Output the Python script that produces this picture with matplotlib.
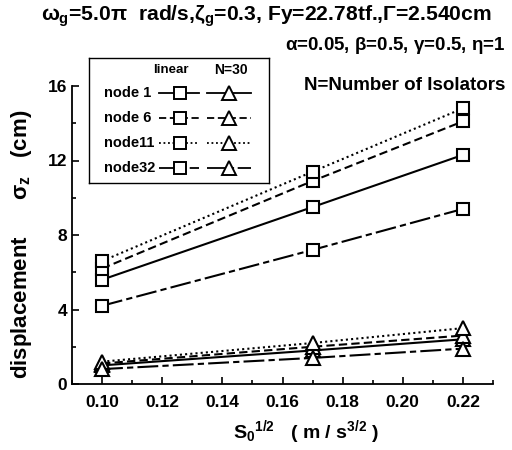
import matplotlib
matplotlib.use('Agg')
import matplotlib.pyplot as plt
import numpy as np
from matplotlib.ticker import MultipleLocator

plt.rcParams['font.family'] = ['Liberation Sans', 'DejaVu Sans']
plt.rcParams['font.weight'] = 'bold'
plt.rcParams['axes.labelweight'] = 'bold'
plt.rcParams['mathtext.fontset'] = 'custom'
plt.rcParams['mathtext.rm'] = 'Liberation Sans:bold'
plt.rcParams['mathtext.it'] = 'Liberation Sans:bold'
plt.rcParams['mathtext.bf'] = 'Liberation Sans:bold'

# datos
s0 = [0.10, 0.17, 0.22]
nodos = ['node 1', 'node 6', 'node11', 'node32']
lineal = {
    'node 1': [5.6, 9.5, 12.3],
    'node 6': [6.2, 10.9, 14.1],
    'node11': [6.6, 11.4, 14.8],
    'node32': [4.2, 7.2, 9.4],
}
n30 = {
    'node 1': [1.0, 1.8, 2.4],
    'node 6': [1.1, 2.0, 2.6],
    'node11': [1.2, 2.2, 3.0],
    'node32': [0.8, 1.4, 1.9],
}
estilos = {
    'node 1': '-',
    'node 6': (0, (4, 2)),
    'node11': (0, (1, 1.5)),
    'node32': (0, (10, 2, 3, 2)),
}

fig = plt.figure(figsize=(5.12, 4.5), dpi=100)
ax = fig.add_axes([72/512, 1-384/450, 421/512, 298/450])

for n in nodos:
    ax.plot(s0, lineal[n], linestyle=estilos[n], color='k', lw=1.5,
            marker='s', ms=9, mfc='white', mec='k', mew=1.5)
    ax.plot(s0, n30[n], linestyle=estilos[n], color='k', lw=1.5,
            marker='^', ms=10, mfc='white', mec='k', mew=1.5)

ax.set_xlim(0.09, 0.23)
ax.set_ylim(0, 16)
ax.xaxis.set_minor_locator(MultipleLocator(0.01))
ax.yaxis.set_major_locator(MultipleLocator(4))
ax.yaxis.set_minor_locator(MultipleLocator(2))
ax.set_xticks([0.10, 0.12, 0.14, 0.16, 0.18, 0.20, 0.22])
ax.set_xticklabels(['0.10', '0.12', '0.14', '0.16', '0.18', '0.20', '0.22'])
ax.tick_params(which='both', direction='in', labelsize=12.5, width=1.2)
ax.tick_params(which='major', length=5)
ax.tick_params(which='minor', length=3)
ax.tick_params(axis='x', pad=8)
ax.spines['top'].set_visible(False)
ax.spines['right'].set_visible(False)
ax.spines['left'].set_linewidth(1.3)
ax.spines['bottom'].set_linewidth(1.3)
for lab in ax.get_xticklabels() + ax.get_yticklabels():
    lab.set_fontweight('bold')

ax.set_xlabel(r'S$_{0}$$^{1/2}$   ( m / s$^{3/2}$ )', fontsize=14)
ax.xaxis.set_label_coords(0.555, -0.115)
ax.set_ylabel(r'displacement      $\sigma_{z}$   (cm)', fontsize=16)
ax.yaxis.set_label_coords(-0.09, 0.47)

fig.text(266/512, 1-16/450,
         r'$\omega_{g}$=5.0$\pi$  rad/s,$\zeta_{g}$=0.3, Fy=22.78tf.,$\Gamma$=2.540cm',
         ha='center', va='center', fontsize=15.2)
fig.text(505/512, 1-45/450, r'$\alpha$=0.05, $\beta$=0.5, $\gamma$=0.5, $\eta$=1',
         ha='right', va='center', fontsize=13.5)
fig.text(505/512, 1-86/450, 'N=Number of Isolators',
         ha='right', va='center', fontsize=13.5)

# leyenda hecha a mano
lg = fig.add_axes([89/512, 1-183/450, 180/512, 125/450])
lg.set_xlim(0, 180)
lg.set_ylim(125, 0)
lg.set_xticks([])
lg.set_yticks([])
for sp in lg.spines.values():
    sp.set_linewidth(1.0)
lg.patch.set_facecolor('white')
lg.text(82, 12, 'linear', ha='center', va='center', fontsize=9.5)
lg.text(142, 12, 'N=30', ha='center', va='center', fontsize=10)
for i, n in enumerate(nodos):
    yy = 35 + 25*i
    lg.text(15, yy, n, ha='left', va='center', fontsize=10.5)
    lg.plot([70, 110], [yy, yy], linestyle=estilos[n], color='k', lw=1.3)
    lg.plot([91], [yy], marker='s', ms=9, mfc='white', mec='k', mew=1.4)
    lg.plot([118, 162], [yy, yy], linestyle=estilos[n], color='k', lw=1.3)
    lg.plot([140], [yy], marker='^', ms=10, mfc='white', mec='k', mew=1.4)

fig.savefig('out.png', dpi=100)
